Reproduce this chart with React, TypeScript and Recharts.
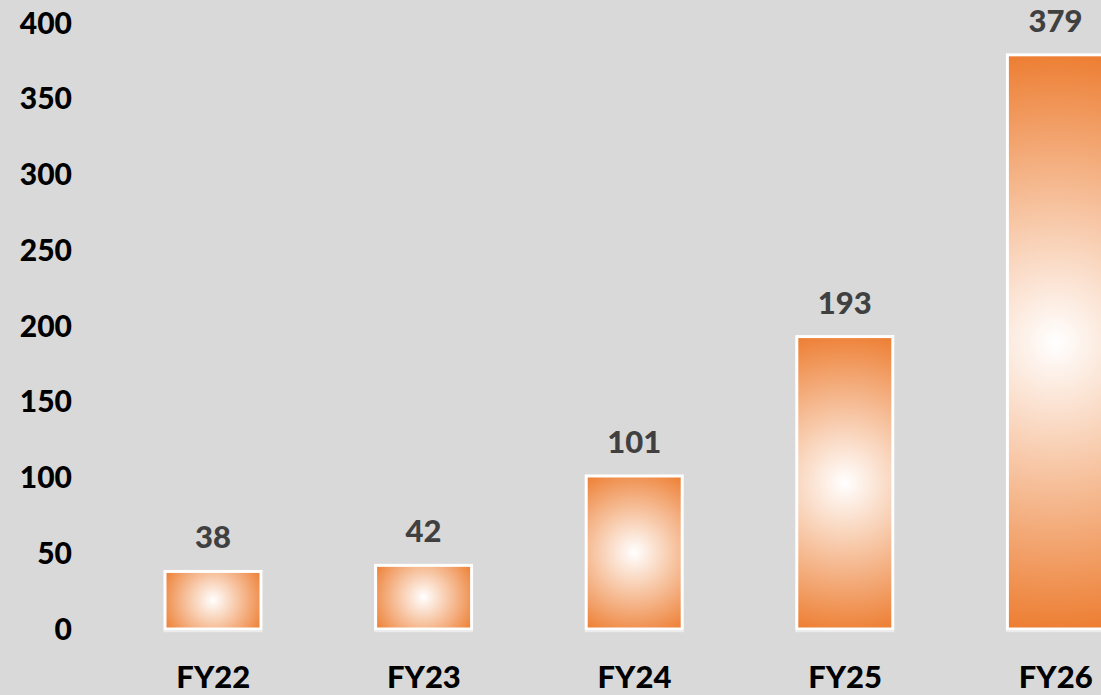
import React from "react";
import { BarChart, Bar, XAxis, YAxis, LabelList } from "recharts";

const categories = ["FY22", "FY23", "FY24", "FY25", "FY26"];
const values = [38, 42, 101, 193, 379];
const yTicks = [0, 50, 100, 150, 200, 250, 300, 350, 400];

const data = categories.map((c, i) => ({ name: c, value: values[i] }));

const FONT = "Lato, 'Open Sans', sans-serif";
const ORANGE = "#ED7D31";

const GradientBar = (props: any) => {
  const { x, y, width, height, index } = props;
  if (width == null || height == null) return null;
  const cx = x + width / 2;
  const cy = y + height / 2;
  const r = Math.sqrt((width / 2) ** 2 + (height / 2) ** 2);
  const id = `barGrad${index}`;
  return (
    <g>
      <defs>
        <radialGradient id={id} gradientUnits="userSpaceOnUse" cx={cx} cy={cy} r={r} fx={cx} fy={cy}>
          <stop offset="0%" stopColor="#ffffff" />
          <stop offset="100%" stopColor={ORANGE} />
        </radialGradient>
      </defs>
      <rect x={x} y={y} width={width} height={height} fill={`url(#${id})`} stroke="#ffffff" strokeWidth={3} />
      <line x1={x - 1.5} x2={x + width + 1.5} y1={y + height + 2.5} y2={y + height + 2.5} stroke="#ececec" strokeWidth={1.5} />
    </g>
  );
};

export default function App() {
  return (
    <div
      style={{
        position: "fixed",
        left: 0,
        top: 0,
        width: 1101,
        height: 695,
        overflow: "hidden",
        background: "#d9d9d9",
      }}
    >
      <BarChart
        width={1161}
        height={695}
        data={data}
        margin={{ top: 23, right: 0, bottom: 0, left: 0 }}
      >
        <XAxis
          dataKey="name"
          axisLine={false}
          tickLine={false}
          tickSize={0}
          tickMargin={37}
          height={66}
          interval={0}
          tick={{ fill: "#000000", fontSize: 31, fontWeight: 900, fontFamily: FONT }}
        />
        <YAxis
          domain={[0, 400]}
          ticks={yTicks}
          axisLine={false}
          tickLine={false}
          tickSize={0}
          tickMargin={36}
          width={108}
          interval={0}
          tick={{ fill: "#000000", fontSize: 30, fontWeight: 900, fontFamily: FONT }}
        />
        <Bar dataKey="value" barSize={96} shape={<GradientBar />} isAnimationActive={false}>
          <LabelList
            dataKey="value"
            position="top"
            offset={23}
            fill="#404040"
            style={{ fontSize: 31, fontWeight: 900, fontFamily: FONT }}
          />
        </Bar>
      </BarChart>
    </div>
  );
}
